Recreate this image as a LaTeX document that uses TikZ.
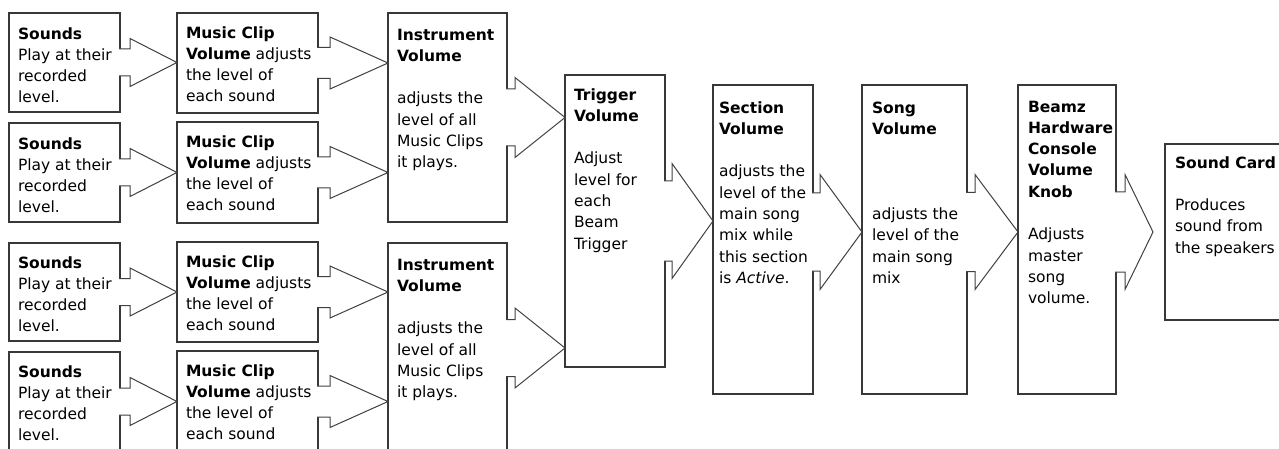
\documentclass[tikz,border=0pt]{standalone}
\usepackage{fontspec}
\setmainfont{DejaVu Sans}
\usetikzlibrary{calc}
\newcommand\fsz{\fontsize{15.5}{21.3}\selectfont}
\tikzset{
 box/.style={draw=black!78, line width=1.1pt, fill=white, inner sep=0pt, outer sep=0pt, anchor=north west, rectangle},
 txt/.style={anchor=north west, inner sep=0pt, outer sep=0pt, align=left, font=\fsz, text=black},
 arrowshape/.style={draw=black!75, line width=1pt, fill=white, line join=miter},
}
% #1 source node, #2 tip point (x used), #3 shaft length, #4 shaft half height, #5 head half height, #6 centre y
\newcommand\barrow[6]{%
 \path[arrowshape] let \p1=(#1.east), \p2=(#2), \p3=(0,#6) in
   (\x1-0.8pt,\y3+#4pt) -- (\x1+#3pt,\y3+#4pt) -- (\x1+#3pt,\y3+#5pt) -- (\x2,\y3)
   -- (\x1+#3pt,\y3-#5pt) -- (\x1+#3pt,\y3-#4pt) -- (\x1-0.8pt,\y3-#4pt);
}
\begin{document}
\begin{tikzpicture}[x=1pt,y=-1pt]
\path[use as bounding box] (0,0) rectangle (1279,449);
\clip (0,0) rectangle (1279,449);
% boxes
\node[box, minimum width=111pt, minimum height=99pt] (s1) at (9,13) {};
\node[box, minimum width=111pt, minimum height=99pt] (s2) at (9,123) {};
\node[box, minimum width=111pt, minimum height=98pt] (s3) at (9,243) {};
\node[box, minimum width=111pt, minimum height=99pt] (s4) at (9,352) {};
\node[box, minimum width=141pt, minimum height=100pt] (m1) at (177,13) {};
\node[box, minimum width=141pt, minimum height=101pt] (m2) at (177,122) {};
\node[box, minimum width=141pt, minimum height=100pt] (m3) at (177,242) {};
\node[box, minimum width=141pt, minimum height=101pt] (m4) at (177,351) {};
\node[box, minimum width=119pt, minimum height=209pt] (i1) at (388,13) {};
\node[box, minimum width=119pt, minimum height=210pt] (i2) at (388,243) {};
\node[box, minimum width=100pt, minimum height=292pt] (tr) at (565,75) {};
\node[box, minimum width=100pt, minimum height=309pt] (se) at (713,85) {};
\node[box, minimum width=105pt, minimum height=309pt] (so) at (862,85) {};
\node[box, minimum width=98pt, minimum height=309pt] (bz) at (1018,85) {};
\node[box, minimum width=130pt, minimum height=176pt] (sc) at (1165,144) {};
\coordinate (sctip) at (1153,232);
% texts
\node[txt] (s1t) at (18,24.1) {\strut\textbf{Sounds}\\Play at their\\recorded\\level.};
\node[txt] (s2t) at (18,134.1) {\strut\textbf{Sounds}\\Play at their\\recorded\\level.};
\node[txt] (s3t) at (18,253.1) {\strut\textbf{Sounds}\\Play at their\\recorded\\level.};
\node[txt] (s4t) at (18,362.1) {\strut\textbf{Sounds}\\Play at their\\recorded\\level.};
\node[txt] (m1t) at (186,23.1) {\strut\textbf{Music Clip}\\\textbf{Volume} adjusts\\the level of\\each sound};
\node[txt] (m2t) at (186,132.1) {\strut\textbf{Music Clip}\\\textbf{Volume} adjusts\\the level of\\each sound};
\node[txt] (m3t) at (186,252.1) {\strut\textbf{Music Clip}\\\textbf{Volume} adjusts\\the level of\\each sound};
\node[txt] (m4t) at (186,361.1) {\strut\textbf{Music Clip}\\\textbf{Volume} adjusts\\the level of\\each sound};
\node[txt] (i1t) at (397,25.1) {\strut\textbf{Instrument}\\\textbf{Volume}\\[21.3pt]adjusts the\\level of all\\Music Clips\\it plays.};
\node[txt] (i2t) at (397,255.1) {\strut\textbf{Instrument}\\\textbf{Volume}\\[21.3pt]adjusts the\\level of all\\Music Clips\\it plays.};
\node[txt] (trt) at (574,85.1) {\strut\textbf{Trigger}\\\textbf{Volume}\\[21.3pt]Adjust\\level for\\each\\Beam\\Trigger};
\node[txt] (set) at (719,98.1) {\strut\textbf{Section}\\\textbf{Volume}\\[21.3pt]adjusts the\\level of the\\main song\\mix while\\this section\\is \textit{Active}.};
\node[txt] (sot) at (872,98.1) {\strut\textbf{Song}\\\textbf{Volume}\\[63.9pt]adjusts the\\level of the\\main song\\mix};
\node[txt] (bzt) at (1028,97.1) {\strut\textbf{Beamz}\\\textbf{Hardware}\\\textbf{Console}\\\textbf{Volume}\\\textbf{Knob}\\[21.3pt]Adjusts\\master\\song\\volume.};
\node[txt] (sct) at (1175,153.1) {\strut\textbf{Sound Card}\\[21.3pt]Produces\\sound from\\the speakers};
% arrows
\barrow{s1}{m1.west}{10}{13.5}{24}{62.5}
\barrow{s2}{m2.west}{10}{13.5}{24}{172.5}
\barrow{s3}{m3.west}{10}{13.5}{24}{292}
\barrow{s4}{m4.west}{10}{13.5}{24}{401.5}
\barrow{m1}{i1.west}{12}{15.5}{26}{63}
\barrow{m2}{i1.west}{12}{15.5}{26}{172.5}
\barrow{m3}{i2.west}{12}{15.5}{26}{292}
\barrow{m4}{i2.west}{12}{15.5}{26}{401.5}
\barrow{i1}{tr.west}{8}{28.5}{40}{117.5}
\barrow{i2}{tr.west}{8}{28.5}{40}{348}
\barrow{tr}{se.west}{7}{40}{57.5}{221}
\barrow{se}{so.west}{7}{39}{57.5}{232}
\barrow{so}{bz.west}{8}{39.5}{57.5}{232}
\barrow{bz}{sctip}{9}{40}{57.5}{232}
\end{tikzpicture}
\end{document}
